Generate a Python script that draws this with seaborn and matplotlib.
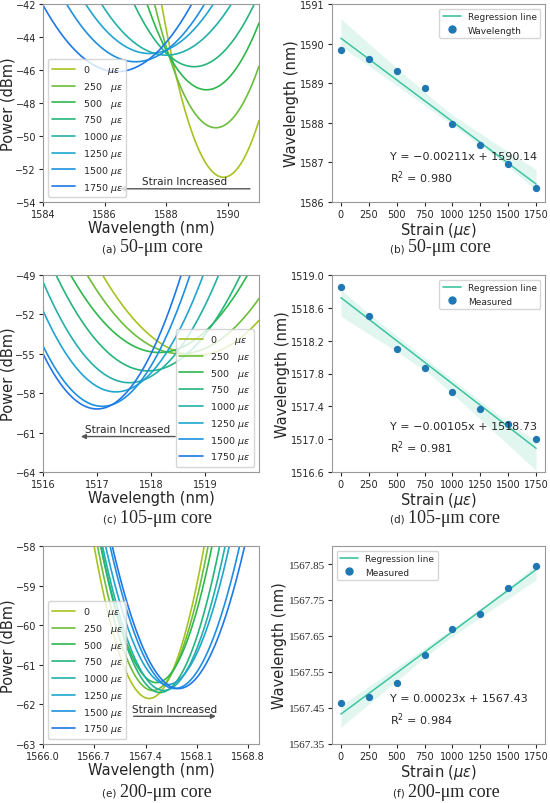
import numpy as np
import matplotlib
matplotlib.use("Agg")
import matplotlib.pyplot as plt
import seaborn as sns
import pandas as pd
from matplotlib.lines import Line2D

sns.set_style("white")
plt.rcParams['font.family'] = ['DejaVu Sans']

strain = [0, 250, 500, 750, 1000, 1250, 1500, 1750]
labels = ["0      $\\mu\\epsilon$", "250   $\\mu\\epsilon$", "500   $\\mu\\epsilon$", "750   $\\mu\\epsilon$",
          "1000 $\\mu\\epsilon$", "1250 $\\mu\\epsilon$", "1500 $\\mu\\epsilon$", "1750 $\\mu\\epsilon$"]
colors = ['#a9c21f', '#6cbd3a', '#2db84d', '#25b57a', '#22b0a8', '#1fa5cf', '#1e8fe0', '#1f78e8']

# spectral dips: centre wavelength, minimum power, curvature
a_x0 = [1589.85, 1589.6, 1589.3, 1588.9, 1588.0, 1587.45, 1587.0, 1586.4]
a_p0 = [-52.5, -49.5, -47.2, -45.8, -45.1, -45.0, -45.5, -46.1]
a_k = [2.6, 1.9, 1.4, 1.0, 0.7, 0.7, 0.7, 0.7]
c_x0 = [1518.85, 1518.55, 1518.15, 1517.95, 1517.6, 1517.35, 1517.1, 1517.0]
c_p0 = [-55.1, -55.0, -54.9, -56.3, -57.2, -57.9, -59.0, -59.2]
c_k = [2.0, 2.0, 2.2, 2.5, 3.0, 3.4, 3.8, 4.2]
e_x0 = [1567.45, 1567.5, 1567.55, 1567.6, 1567.65, 1567.7, 1567.8, 1567.85]
e_p0 = [-61.85, -61.65, -61.45, -61.7, -61.65, -61.5, -61.6, -61.6]
e_k = [6.8, 6.4, 6.0, 5.6, 5.2, 4.9, 4.6, 4.4]

b_wl = [1589.85, 1589.6, 1589.3, 1588.88, 1587.98, 1587.45, 1586.95, 1586.35]
d_wl = [1518.85, 1518.5, 1518.1, 1517.87, 1517.58, 1517.37, 1517.18, 1517.0]
f_wl = [1567.465, 1567.48, 1567.52, 1567.597, 1567.67, 1567.71, 1567.783, 1567.845]

fig = plt.figure(figsize=(5.5, 8.04), dpi=100)
W, H = 550, 804
def ax_at(x0, y0, x1, y1):
    return fig.add_axes([x0 / W, 1 - y1 / H, (x1 - x0) / W, (y1 - y0) / H])

rows = [(5, 203), (276, 473), (547, 745)]
capy = [252, 523, 797]

def spectra(ax, x0s, p0s, ks, xlim, ylim, yticks, xticks, legloc, arrow, ty):
    xs = np.linspace(xlim[0], xlim[1], 600)
    for x0, p0, k, c, lab in zip(x0s, p0s, ks, colors, labels):
        df = pd.DataFrame({"x": xs, "y": p0 + k * (xs - x0) ** 2})
        sns.lineplot(data=df, x="x", y="y", ax=ax, color=c, lw=1.2, label=lab)
    ax.set_xlim(xlim); ax.set_ylim(ylim)
    ax.set_xticks(xticks); ax.set_yticks(yticks)
    ax.set_xticklabels([f"{t:g}" if isinstance(t, int) else f"{t:.1f}" for t in xticks])
    ax.set_xlabel("Wavelength (nm)", fontsize=10.5, labelpad=1)
    ax.set_ylabel("Power (dBm)", fontsize=10.5, labelpad=0)
    ax.tick_params(labelsize=7, length=3, pad=2, left=True, bottom=True)
    ax.legend(loc=legloc, fontsize=6.8, frameon=True, handlelength=2.5, labelspacing=0.4)
    (xa, xb, ya) = arrow
    ax.annotate("", xy=(xb, ya), xytext=(xa, ya),
                arrowprops=dict(arrowstyle="-|>", color="#555555", lw=1, mutation_scale=7))
    ax.text((xa + xb) / 2, ya + ty, "Strain Increased", ha="center", va="bottom", fontsize=7.5)
    for s in ax.spines.values():
        s.set_color("#999999")

L = 43
ax = ax_at(L, rows[0][0], 259, rows[0][1])
spectra(ax, a_x0, a_p0, a_k, (1584, 1591), (-54, -42), list(range(-54, -41, 2)),
        [1584, 1586, 1588, 1590], "lower left", (1590.8, 1586.4, -53.2), 0.15)
ax = ax_at(L, rows[1][0], 259, rows[1][1])
spectra(ax, c_x0, c_p0, c_k, (1516, 1520), (-64, -49), list(range(-64, -48, 3)),
        [1516, 1517, 1518, 1519], "lower right", (1518.5, 1516.65, -61.3), 0.2)
ax = ax_at(L, rows[2][0], 259, rows[2][1])
spectra(ax, e_x0, e_p0, e_k, (1566.0, 1568.95), (-63, -58), list(range(-63, -57)),
        [1566.0, 1566.7, 1567.4, 1568.1, 1568.8], "lower left", (1567.2, 1568.4, -62.3), 0.05)

def regress(ax, wl, sc_label, ylim, yticks, fmt, eq, serif=False):
    df = pd.DataFrame({"s": strain, "w": wl})
    sns.regplot(data=df, x="s", y="w", ax=ax, scatter=False, color="#3dc4a0",
                line_kws=dict(lw=1.1))
    ax.scatter(strain, wl, color="#1f77b4", s=18, zorder=3)
    ax.set_ylim(ylim); ax.set_yticks(yticks)
    ax.set_yticklabels([fmt.format(t) for t in yticks],
                       family="Liberation Serif" if serif else "DejaVu Sans",
                       fontsize=8 if serif else 7)
    ax.set_xlim(-80, 1830)
    ax.set_xticks(strain)
    ax.set_xlabel("Strain ($\\mu\\epsilon$)", fontsize=10.5, labelpad=1)
    ax.set_ylabel("Wavelength (nm)", fontsize=10.5, labelpad=1)
    ax.tick_params(axis="x", labelsize=7, length=3, pad=2, bottom=True)
    ax.tick_params(axis="y", length=3, pad=2, left=True)
    handles = [Line2D([], [], color="#3dc4a0", lw=1.2),
               Line2D([], [], marker="o", ls="", color="#1f77b4", markersize=5)]
    ax.legend(handles, ["Regression line", sc_label], loc="upper right" if not serif else "upper left",
              fontsize=6.5, frameon=True)
    ax.text(0.27, 0.26, eq, transform=ax.transAxes, fontsize=8, va="top", linespacing=1.6)
    for s in ax.spines.values():
        s.set_color("#999999")

ax = ax_at(332, rows[0][0], 545, rows[0][1])
regress(ax, b_wl, "Wavelength", (1586, 1591), list(range(1586, 1592)), "{:.0f}",
        "Y = \u22120.00211x + 1590.14\nR$^2$ = 0.980")
ax = ax_at(332, rows[1][0], 545, rows[1][1])
regress(ax, d_wl, "Measured", (1516.6, 1519.0), list(np.round(np.arange(1516.6, 1519.01, 0.4), 1)), "{:.1f}",
        "Y = \u22120.00105x + 1518.73\nR$^2$ = 0.981")
ax = ax_at(332, rows[2][0], 545, rows[2][1])
regress(ax, f_wl, "Measured", (1567.35, 1567.9), list(np.round(np.arange(1567.35, 1567.86, 0.1), 2)), "{:.2f}",
        "Y = 0.00023x + 1567.43\nR$^2$ = 0.984", serif=True)

caps = [("(a)", "50-μm core", 150), ("(b)", "50-μm core", 438),
        ("(c)", "105-μm core", 150), ("(d)", "105-μm core", 438),
        ("(e)", "200-μm core", 150), ("(f)", "200-μm core", 438)]
for i, (p, t, cx) in enumerate(caps):
    y = 1 - capy[i // 2] / H
    fig.text((cx - 30) / W, y, p + " ", ha="right", va="baseline", fontsize=7.5, family="DejaVu Sans")
    fig.text((cx - 30) / W, y, t, ha="left", va="baseline", fontsize=13, family="Liberation Serif")

fig.savefig("out.png", dpi=100)
